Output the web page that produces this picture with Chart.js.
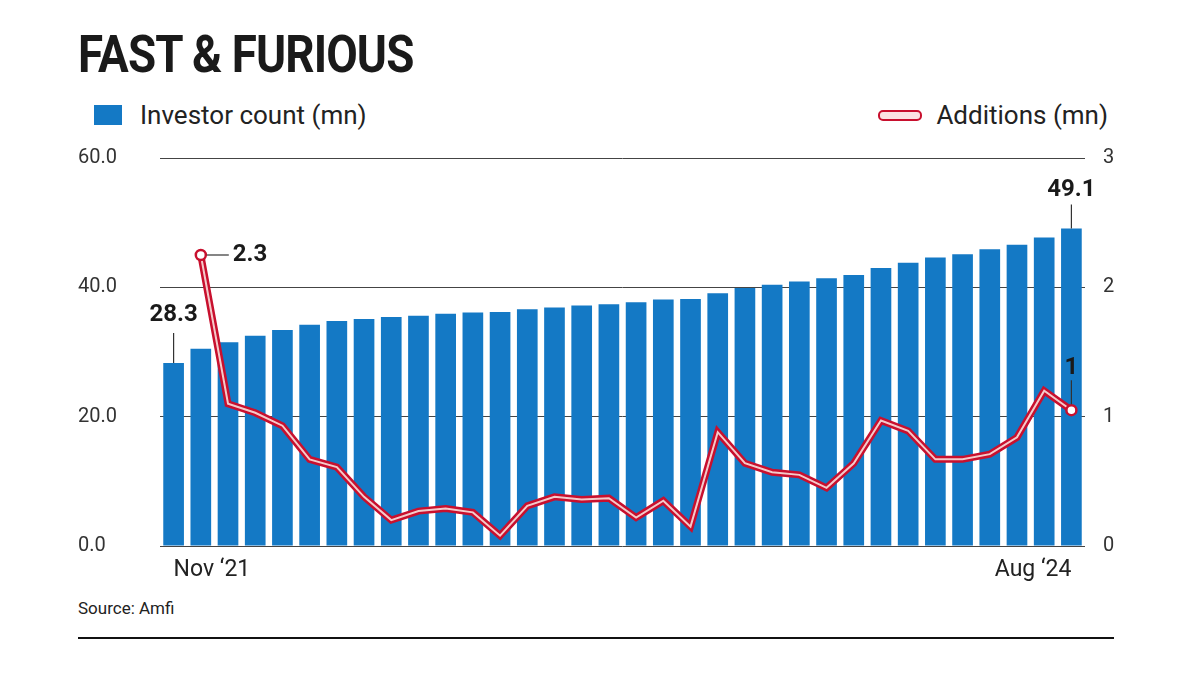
<!DOCTYPE html>
<html><head><meta charset="utf-8">
<script src="https://cdn.jsdelivr.net/npm/chart.js@4"></script>
<style>
body{margin:0;width:1200px;height:675px;background:#fff;position:relative;overflow:hidden;font-family:"Roboto",sans-serif;color:#222}
#title{position:absolute;left:78px;top:24px;font-size:52px;font-weight:bold;letter-spacing:-1px;color:#1a1a1a;transform:scaleX(0.88);transform-origin:left top}
.leg{position:absolute;top:100px;font-size:26px;color:#222;display:flex;align-items:center}
#src{position:absolute;left:78px;top:598px;font-size:17px;color:#222}
#rule{position:absolute;left:78px;top:637px;width:1036px;height:2px;background:#111}
#wrap{position:absolute;left:0;top:136px;width:1200px;height:462px}
</style></head><body>
<div id="title">FAST &amp; FURIOUS</div>
<div class="leg" style="left:94px"><span style="display:inline-block;width:28px;height:20px;background:#1479c5;margin-right:18px"></span>Investor count (mn)</div>
<div class="leg" style="right:92px"><span style="display:inline-block;width:40px;height:7px;border:2.5px solid #c8102e;border-radius:5px;background:#fbe3e3;margin-right:14px"></span>Additions (mn)</div>
<div id="wrap"><canvas id="c"></canvas></div>
<div id="src">Source: Amfi</div>
<div id="rule"></div>
<script>
const categories = ["Nov ‘21","Dec ‘21","Jan ‘22","Feb ‘22","Mar ‘22","Apr ‘22","May ‘22","Jun ‘22","Jul ‘22","Aug ‘22","Sep ‘22","Oct ‘22","Nov ‘22","Dec ‘22","Jan ‘23","Feb ‘23","Mar ‘23","Apr ‘23","May ‘23","Jun ‘23","Jul ‘23","Aug ‘23","Sep ‘23","Oct ‘23","Nov ‘23","Dec ‘23","Jan ‘24","Feb ‘24","Mar ‘24","Apr ‘24","May ‘24","Jun ‘24","Jul ‘24","Aug ‘24"];
const investorCount = [28.3,30.5,31.5,32.5,33.4,34.2,34.8,35.1,35.4,35.6,35.9,36.1,36.2,36.6,36.9,37.2,37.4,37.7,38.1,38.2,39.1,39.9,40.4,40.9,41.4,41.9,43.0,43.8,44.6,45.1,45.9,46.6,47.7,49.1];
const additions = [null,2.25,1.10,1.03,0.93,0.67,0.61,0.38,0.20,0.27,0.29,0.26,0.08,0.31,0.38,0.36,0.37,0.22,0.35,0.15,0.88,0.64,0.57,0.55,0.45,0.64,0.97,0.89,0.67,0.67,0.71,0.84,1.20,1.05];
const leftTicks = [0,20,40,60];
const rightTicks = [0,1,2,3];
const FONT = '"Roboto",sans-serif';

const annot = {
  id:'annot',
  afterDatasetsDraw(ch){
    const c=ch.ctx, x=ch.scales.x, y=ch.scales.y, y1=ch.scales.y1;
    c.save(); c.fillStyle='#1a1a1a'; c.strokeStyle='#333'; c.lineWidth=1.2;
    c.font='bold 24px '+FONT; c.textBaseline='middle';
    let bx=x.getPixelForValue(0), by=y.getPixelForValue(investorCount[0]);
    c.beginPath(); c.moveTo(bx,by); c.lineTo(bx,by-30); c.stroke();
    c.textAlign='center'; c.fillText(investorCount[0].toFixed(1), bx, by-48);
    const n=investorCount.length-1;
    bx=x.getPixelForValue(n); by=y.getPixelForValue(investorCount[n]);
    c.fillText(investorCount[n].toFixed(1), bx, by-38);
    c.beginPath(); c.moveTo(bx,by-24); c.lineTo(bx,by); c.stroke();
    let px=x.getPixelForValue(1), py=y1.getPixelForValue(additions[1]);
    c.beginPath(); c.moveTo(px+6,py); c.lineTo(px+28,py); c.stroke();
    c.textAlign='left'; c.fillText(additions[1].toFixed(1), px+32, py);
    px=x.getPixelForValue(n); py=y1.getPixelForValue(additions[n]);
    c.textAlign='center'; c.fillText(Math.round(additions[n]).toString(), px, py-42);
    c.beginPath(); c.moveTo(px,py-30); c.lineTo(px,py-6); c.stroke();
    c.restore();
  }
};
const ptR = additions.map((v,i)=> (i===1||i===additions.length-1)?5:0);
new Chart(document.getElementById('c'),{
  data:{labels:categories,datasets:[
    {type:'line',data:additions,yAxisID:'y1',borderColor:'#c8102e',borderWidth:7,pointRadius:0,tension:0,order:1},
    {type:'line',data:additions,yAxisID:'y1',borderColor:'#f4caca',borderWidth:2,pointRadius:ptR,pointBackgroundColor:'#fff',pointBorderColor:'#c8102e',pointBorderWidth:2.5,tension:0,order:0},
    {type:'bar',data:investorCount,yAxisID:'y',backgroundColor:'#1479c5',barPercentage:0.76,categoryPercentage:1,order:2}
  ]},
  options:{responsive:true,maintainAspectRatio:false,animation:false,
    layout:{padding:{left:78,right:85,top:22,bottom:0}},
    plugins:{legend:{display:false},tooltip:{enabled:false}},
    scales:{
      x:{offset:true,grid:{display:false},border:{display:false},
        ticks:{autoSkip:false,maxRotation:0,align:'inner',color:'#222',font:{family:FONT,size:23},padding:2,
          callback:(v,i)=> (i===0||i===categories.length-1)?categories[i]:''},
        afterFit(s){s.height=52;}},
      y:{position:'left',min:0,max:60,afterBuildTicks(s){s.ticks=leftTicks.map(v=>({value:v}));},
        grid:{color:'#444',lineWidth:1,drawTicks:false},border:{display:false},
        ticks:{crossAlign:'far',color:'#333',font:{family:FONT,size:20},padding:6,callback:v=>v.toFixed(1)},
        afterFit(s){s.width=82;}},
      y1:{position:'right',min:0,max:3,afterBuildTicks(s){s.ticks=rightTicks.map(v=>({value:v}));},
        grid:{display:false},border:{display:false},
        ticks:{color:'#333',font:{family:FONT,size:20},padding:10,callback:v=>String(v)},
        afterFit(s){s.width=30;}}
    }},
  plugins:[annot]
});
</script></body></html>
